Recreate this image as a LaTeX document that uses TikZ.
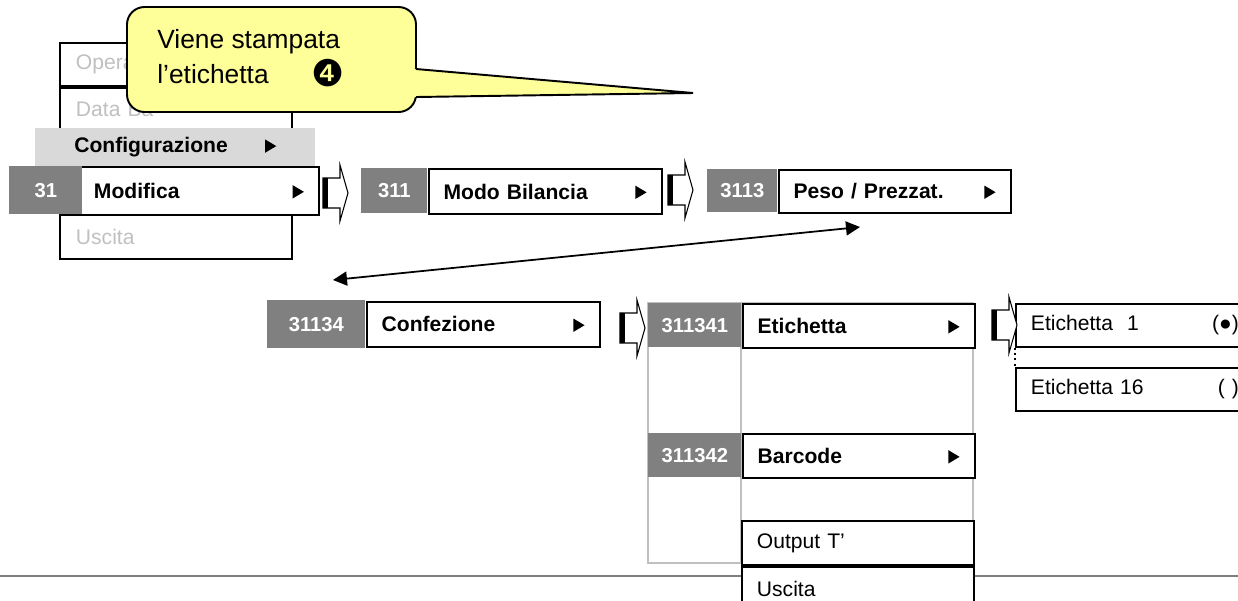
\documentclass[tikz,border=0pt]{standalone}
\usepackage{fontspec}
\setmainfont{Liberation Sans}
\newfontfamily\symfont{DejaVu Sans}
\usetikzlibrary{arrows.meta,positioning}

\definecolor{numgray}{HTML}{808080}
\definecolor{bandgray}{HTML}{D9D9D9}
\definecolor{textgray}{HTML}{C0C0C0}
\definecolor{framegray}{HTML}{C0C0C0}
\definecolor{calloutyellow}{HTML}{FFFF99}
\definecolor{rulegray}{HTML}{7F7F7F}

\newcommand{\subfill}{\hskip 0pt plus 1filll}
\newcommand{\subtri}{\subfill\tikz[baseline=0pt]\fill (0pt,0pt) -- (0pt,7.6pt) -- (6.4pt,3.8pt) -- cycle;}

\tikzset{
	numbox/.style={fill=numgray, text=white, font=\fontsize{11.5}{13}\selectfont\bfseries, inner sep=0pt, anchor=north west, minimum width=18.6mm, minimum height=8.8mm},
	itembox/.style={draw, line width=1.1pt, fill=white, anchor=north west, inner xsep=3mm, inner ysep=0pt, text width=40.4mm, minimum height=8.8mm, align=left, font=\fontsize{12}{14}\selectfont},
	boldbox/.style={itembox, font=\fontsize{12}{14}\selectfont\bfseries},
	greyitem/.style={itembox, text=textgray, inner xsep=3.2mm, text width=40mm},
	subframe/.style={framegray, line width=0.9pt},
	callout/.style={draw, line width=1.1pt, fill=calloutyellow, rounded corners=3.5mm},
	calltext/.style={inner sep=0pt, font=\fontsize{15}{18}\selectfont},
	link/.style={{Triangle[length=2.8mm,width=2.8mm]}-{Triangle[length=2.8mm,width=2.8mm]}, line width=1pt},
	blockarr/.pic={
		\draw[line width=0.6pt, fill=white] (0,-15) -- (17,-15) -- (17,-28) -- (25,0) -- (17,28) -- (17,15) -- (0,15) -- cycle;
		\fill (0,-15) rectangle (5,15);
	}
}

\begin{document}
\begin{tikzpicture}[x=0.02cm, y=-0.02cm]

	% page area

	\useasboundingbox (0,0) rectangle (1238,600);

	\clip (0,0) rectangle (1238,600);

	% main menu

	\node[greyitem, minimum height=8.6mm] (opera) at (59,42) {Opera};

	\node[greyitem, minimum height=8.6mm] (database) at (opera.south west) {Data Ba};

	\node[greyitem] (uscitamain) at (59,214) {Uscita};

	\node[fill=bandgray, anchor=north west, inner xsep=7.8mm, inner ysep=0pt, text width=40.4mm, minimum height=7.6mm, align=left, font=\fontsize{12}{14}\selectfont\bfseries] (config) at (35,128) {Configurazione\subtri};

	\node[boldbox, text width=42mm, minimum height=9.6mm] (modifica) at (78,166) {Modifica\subtri};

	\node[numbox, minimum width=14.6mm, minimum height=9.6mm] (num31) at (9,166) {31};

	% first row

	\node[numbox, minimum width=13.2mm, minimum height=9mm] (num311) at (361,168) {311};

	\node[boldbox, text width=40.6mm, minimum height=9mm] (modobil) at (num311.north east) {Modo Bilancia\subtri};

	\node[numbox, minimum width=14mm, minimum height=8.6mm] (num3113) at (707,169) {3113};

	\node[boldbox, minimum height=8.6mm] (peso) at (num3113.north east) {Peso / Prezzat.\subtri};

	\pic at (323,193) {blockarr};

	\pic at (668,190) {blockarr};

	% second row

	\node[numbox, minimum width=19.6mm, minimum height=9.6mm] (num31134) at (267,300) {31134};

	\node[boldbox, anchor=west, text width=40.6mm, minimum height=9mm] (confez) at (num31134.east) {Confezione\subtri};

	\draw[subframe] (648,303) rectangle (973,563);

	\draw[subframe] (741,303) -- (741,563);

	\node[numbox] (num311341) at (648,303) {311341};

	\node[boldbox] (etich) at (num311341.north east) {Etichetta\subtri};

	\node[numbox] (num311342) at (648,433) {311342};

	\node[boldbox] (barcode) at (num311342.north east) {Barcode\subtri};

	\draw[rulegray, line width=1.2pt] (0,576) -- (1238,576);

	\node[itembox] (outputt) at (741,520) {Output T’};

	\node[itembox] (uscitasub) at (outputt.south west) {Uscita};

	\node[itembox, text width=41.6mm, minimum height=8.6mm] (etich1) at (1015,303) {Etichetta\ \ 1\subfill(●)};

	\node[itembox, text width=41.6mm, minimum height=8.6mm] (etich16) at (1015,367) {Etichetta 16\subfill(~)};

	\draw[dotted, line width=1pt] (etich1.south west) -- (etich16.north west);

	\pic at (620,328) {blockarr};

	\pic at (992,325) {blockarr};

	% link arrow

	\coordinate (pesolink) at (860,227);

	\coordinate (conflink) at (333,280);

	\draw[link] (pesolink) -- (conflink);

	% callout

	\draw[callout] (127,7) rectangle (416,112);

	\fill[calloutyellow] (408,69) -- (416,69) -- (693,93) -- (416,97) -- (408,97) -- cycle;

	\draw[line width=1.1pt] (416,69) -- (693,93) -- (416,97);

	\node[calltext, anchor=base west] (callline1) at (157,48) {Viene stampata};

	\node[calltext, anchor=base west] (callline2) at (157,83) {l’etichetta};

	\node[inner sep=0pt, font=\symfont\fontsize{21}{24}\selectfont] (number4) at (328,73) {❹};

\end{tikzpicture}
\end{document}
